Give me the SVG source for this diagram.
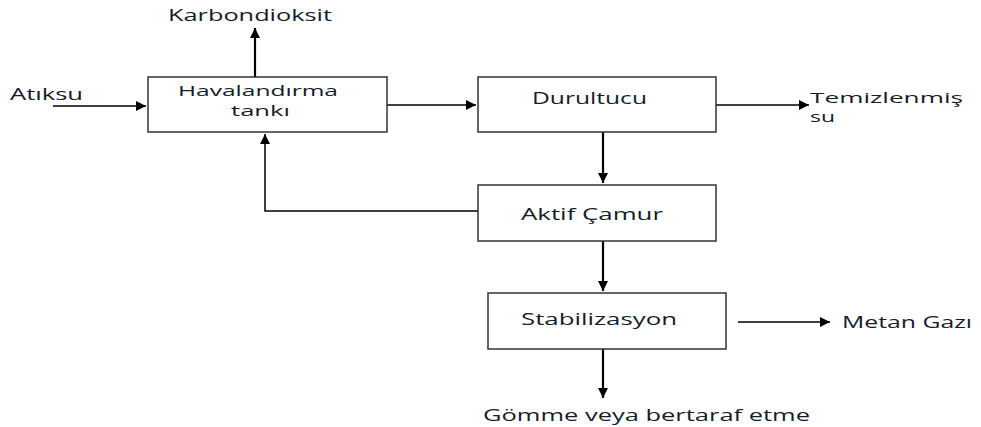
<svg xmlns="http://www.w3.org/2000/svg" width="981" height="427" viewBox="0 0 981 427">
<defs>
<marker id="ah" viewBox="0 0 10 10" refX="10" refY="5" markerWidth="10" markerHeight="10" markerUnits="userSpaceOnUse" orient="auto">
<path d="M0,0 L10,5 L0,10 z" fill="#000"/>
</marker>
<style>
.box{fill:#fff;stroke:#333;stroke-width:1.5}
.c{fill:none;stroke:#000;stroke-width:1.5}
.c2{fill:none;stroke:#000;stroke-width:2.2}
text{font-family:"Open Sans","Liberation Sans",sans-serif;font-size:16px;fill:#151c2b}
.s{font-size:15px}
</style>
</defs>
<rect width="981" height="427" fill="#fff"/>
<g id="connectors">
<path class="c" d="M53,106 H146" marker-end="url(#ah)"/>
<path class="c2" d="M255,77 V28" marker-end="url(#ah)"/>
<path class="c" d="M387,105 H476" marker-end="url(#ah)"/>
<path class="c" d="M716,105 H809" marker-end="url(#ah)"/>
<path class="c2" d="M603,132 V183" marker-end="url(#ah)"/>
<path class="c" d="M478,211 H265 V134" marker-end="url(#ah)"/>
<path class="c2" d="M603,241 V291" marker-end="url(#ah)"/>
<path class="c" d="M738,322 H830" marker-end="url(#ah)"/>
<path class="c2" d="M603,349 V398" marker-end="url(#ah)"/>
</g>
<g id="havalandirma">
<rect class="box" x="148" y="77" width="239" height="55"/>
<text class="s" x="178" y="96" textLength="160" lengthAdjust="spacingAndGlyphs">Havalandırma</text>
<text class="s" x="231" y="116" textLength="59" lengthAdjust="spacingAndGlyphs">tankı</text>
</g>
<g id="durultucu">
<rect class="box" x="478" y="77" width="238" height="55"/>
<text x="532" y="104" textLength="115" lengthAdjust="spacingAndGlyphs">Durultucu</text>
</g>
<g id="aktif">
<rect class="box" x="478" y="185" width="238" height="56"/>
<text x="521" y="220" textLength="142" lengthAdjust="spacingAndGlyphs">Aktif Çamur</text>
</g>
<g id="stabilizasyon">
<rect class="box" x="488" y="293" width="238" height="56"/>
<text x="521" y="325" textLength="156" lengthAdjust="spacingAndGlyphs">Stabilizasyon</text>
</g>
<g id="labels">
<text x="168" y="21" textLength="164" lengthAdjust="spacingAndGlyphs">Karbondioksit</text>
<text x="10" y="100" textLength="73" lengthAdjust="spacingAndGlyphs">Atıksu</text>
<text class="s" x="810" y="103" textLength="153" lengthAdjust="spacingAndGlyphs">Temizlenmiş</text>
<text class="s" x="810" y="122" textLength="25" lengthAdjust="spacingAndGlyphs">su</text>
<text x="842" y="328" textLength="130" lengthAdjust="spacingAndGlyphs">Metan Gazı</text>
<text x="483" y="421" textLength="327" lengthAdjust="spacingAndGlyphs">Gömme veya bertaraf etme</text>
</g>
</svg>
